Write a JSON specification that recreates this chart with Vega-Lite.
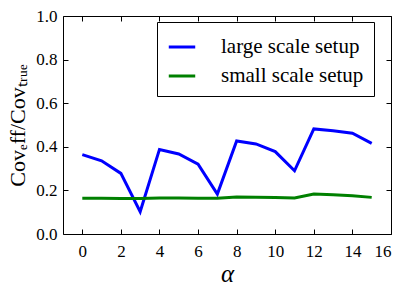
{
  "$schema": "https://vega.github.io/schema/vega-lite/v6.json",
  "autosize": "none",
  "width": 328,
  "height": 218,
  "padding": {"left": 63, "top": 16, "right": 16, "bottom": 57},
  "background": "white",
  "config": {
    "view": {"stroke": "black", "strokeWidth": 1},
    "font": "Liberation Serif",
    "axis": {"grid": false, "domain": false, "tickColor": "black", "labelColor": "black", "titleColor": "black"}
  },
  "data": {"values": [
    {"alpha": 0, "v": 0.364, "s": "large scale setup"},
    {"alpha": 1, "v": 0.336, "s": "large scale setup"},
    {"alpha": 2, "v": 0.278, "s": "large scale setup"},
    {"alpha": 3, "v": 0.102, "s": "large scale setup"},
    {"alpha": 4, "v": 0.388, "s": "large scale setup"},
    {"alpha": 5, "v": 0.367, "s": "large scale setup"},
    {"alpha": 6, "v": 0.320, "s": "large scale setup"},
    {"alpha": 7, "v": 0.183, "s": "large scale setup"},
    {"alpha": 8, "v": 0.427, "s": "large scale setup"},
    {"alpha": 9, "v": 0.413, "s": "large scale setup"},
    {"alpha": 10, "v": 0.378, "s": "large scale setup"},
    {"alpha": 11, "v": 0.290, "s": "large scale setup"},
    {"alpha": 12, "v": 0.482, "s": "large scale setup"},
    {"alpha": 13, "v": 0.474, "s": "large scale setup"},
    {"alpha": 14, "v": 0.462, "s": "large scale setup"},
    {"alpha": 15, "v": 0.416, "s": "large scale setup"},
    {"alpha": 0, "v": 0.164, "s": "small scale setup"},
    {"alpha": 1, "v": 0.164, "s": "small scale setup"},
    {"alpha": 2, "v": 0.163, "s": "small scale setup"},
    {"alpha": 3, "v": 0.163, "s": "small scale setup"},
    {"alpha": 4, "v": 0.165, "s": "small scale setup"},
    {"alpha": 5, "v": 0.165, "s": "small scale setup"},
    {"alpha": 6, "v": 0.164, "s": "small scale setup"},
    {"alpha": 7, "v": 0.164, "s": "small scale setup"},
    {"alpha": 8, "v": 0.170, "s": "small scale setup"},
    {"alpha": 9, "v": 0.169, "s": "small scale setup"},
    {"alpha": 10, "v": 0.167, "s": "small scale setup"},
    {"alpha": 11, "v": 0.165, "s": "small scale setup"},
    {"alpha": 12, "v": 0.183, "s": "small scale setup"},
    {"alpha": 13, "v": 0.180, "s": "small scale setup"},
    {"alpha": 14, "v": 0.176, "s": "small scale setup"},
    {"alpha": 15, "v": 0.168, "s": "small scale setup"}
  ]},
  "layer": [
    {
      "mark": {"type": "line", "strokeWidth": 3},
      "encoding": {
        "x": {"field": "alpha", "type": "quantitative", "scale": {"domain": [-1, 16], "nice": false, "zero": false},
          "axis": {"orient": "bottom", "values": [0, 2, 4, 6, 8, 10, 12, 14, 16], "tickSize": -5, "labelPadding": 14, "labelFont": "Liberation Serif", "labelFontSize": 17, "format": "d", "title": "α", "titleFont": "Liberation Serif", "titleFontSize": 25, "titleFontStyle": "italic", "titleFontWeight": "normal", "titlePadding": 2}},
        "y": {"field": "v", "type": "quantitative", "scale": {"domain": [0, 1], "nice": false},
          "axis": {"orient": "left", "values": [0, 0.2, 0.4, 0.6, 0.8, 1.0], "format": ".1f", "tickSize": -5, "labelPadding": 11, "labelFont": "Liberation Serif", "labelFontSize": 17, "title": "Covₑff/Covₜᵣᵤₑ", "titleFont": "Liberation Serif", "titleFontSize": 22, "titleFontWeight": "normal", "titlePadding": 6}},
        "color": {"field": "s", "type": "nominal", "scale": {"domain": ["large scale setup", "small scale setup"], "range": ["#0000ff", "#008000"]},
          "legend": {"title": null, "orient": "none", "legendX": 94, "legendY": 6, "symbolType": "stroke", "symbolStrokeWidth": 3, "symbolSize": 700, "labelFontSize": 21, "labelFont": "Liberation Serif", "labelColor": "black", "strokeColor": "black", "fillColor": "white", "padding": 10, "rowPadding": 4, "labelOffset": 24, "labelLimit": 300}}
      }
    },
    {
      "mark": {"type": "line", "opacity": 0},
      "encoding": {
        "x": {"field": "alpha", "type": "quantitative", "axis": {"orient": "top", "values": [0, 2, 4, 6, 8, 10, 12, 14, 16], "tickSize": -5, "labels": false, "title": null}},
        "y": {"field": "v", "type": "quantitative", "axis": {"orient": "right", "values": [0, 0.2, 0.4, 0.6, 0.8, 1.0], "tickSize": -5, "labels": false, "title": null}}
      }
    }
  ],
  "resolve": {"axis": {"x": "independent", "y": "independent"}}
}
